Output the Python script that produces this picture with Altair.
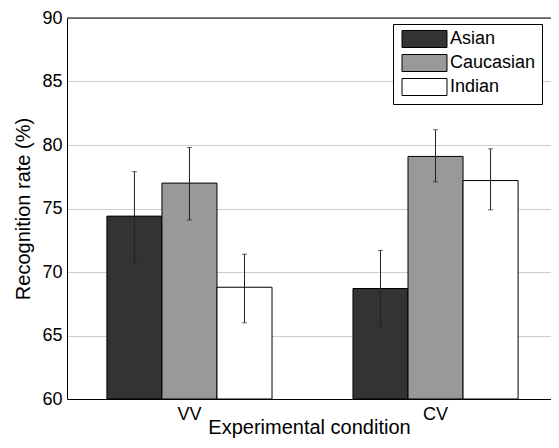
import altair as alt
import pandas as pd

conditions = ["VV", "VV", "VV", "CV", "CV", "CV"]
groups = ["Asian", "Caucasian", "Indian", "Asian", "Caucasian", "Indian"]
rates = [74.4, 77.0, 68.8, 68.7, 79.1, 77.2]
err_low = [70.7, 74.1, 66.0, 65.7, 77.1, 74.9]
err_high = [77.9, 79.8, 71.4, 71.7, 81.2, 79.7]

condition_order = ["VV", "CV"]
group_order = ["Asian", "Caucasian", "Indian"]
group_colors = ["#333333", "#999999", "#ffffff"]
y_ticks = [60, 65, 70, 75, 80, 85, 90]
y_min, y_max = 60, 90

df = pd.DataFrame({
    "condition": conditions,
    "group": groups,
    "rate": rates,
    "lo": err_low,
    "hi": err_high,
    "base": [y_min] * len(rates),
})
top_df = pd.DataFrame({"v": [y_max]})

FONT = "Liberation Sans"

x_enc = alt.X(
    "condition:N",
    sort=condition_order,
    scale=alt.Scale(paddingInner=0.329, paddingOuter=0.148, align=0.548),
    axis=alt.Axis(title="Experimental condition", labelAngle=0, ticks=False,
                  labelPadding=6, titlePadding=-6, grid=False),
)
xo_enc = alt.XOffset("group:N", sort=group_order,
                     scale=alt.Scale(paddingInner=0, paddingOuter=0))
y_scale = alt.Scale(domain=[y_min, y_max], nice=False, zero=False)

bars = alt.Chart(df).mark_bar(stroke="black", strokeWidth=1, opacity=1).encode(
    x=x_enc,
    xOffset=xo_enc,
    y=alt.Y("rate:Q", scale=y_scale,
            axis=alt.Axis(title="Recognition rate (%)", values=y_ticks, ticks=False,
                          labelPadding=5, titlePadding=8, grid=True,
                          gridColor="#999999", gridDash=[1, 1], gridWidth=1)),
    y2="base:Q",
    fill=alt.Fill(
        "group:N",
        sort=group_order,
        scale=alt.Scale(domain=group_order, range=group_colors),
        legend=alt.Legend(
            title=None, orient="none", legendX=326, legendY=6,
            fillColor="white", strokeColor="black", padding=6,
            symbolType="M-2.647,-1H2.647V1H-2.647Z", symbolSize=289,
            symbolStrokeColor="black", symbolStrokeWidth=1, symbolOpacity=1,
            symbolOffset=16.5, labelOffset=16.5, rowPadding=2,
            labelFontSize=18, labelFont=FONT, labelColor="black",
        ),
    ),
)

err = alt.Chart(df).mark_rule(color="#222222", strokeWidth=1).encode(
    x=x_enc, xOffset=xo_enc, y=alt.Y("lo:Q", scale=y_scale), y2="hi:Q"
)
cap_lo = alt.Chart(df).mark_tick(color="#222222", size=5, thickness=1).encode(
    x=x_enc, xOffset=xo_enc, y=alt.Y("lo:Q", scale=y_scale)
)
cap_hi = alt.Chart(df).mark_tick(color="#222222", size=5, thickness=1).encode(
    x=x_enc, xOffset=xo_enc, y=alt.Y("hi:Q", scale=y_scale)
)
top = alt.Chart(top_df).mark_rule(color="black", strokeWidth=1).encode(
    y=alt.Y("v:Q", scale=y_scale)
)

chart = alt.layer(bars, err, cap_lo, cap_hi, top).properties(
    width=484, height=381,
    autosize=alt.AutoSizeParams(type="none"),
    padding={"left": 59, "top": 10, "right": 0, "bottom": 40},
).configure_view(stroke=None).configure_axis(
    domainColor="black", domainWidth=1,
    labelFont=FONT, labelFontSize=18, labelColor="black",
    titleFont=FONT, titleFontSize=20, titleFontWeight="normal", titleColor="black",
)

chart.save("out.html", embed_options={"renderer": "svg", "actions": False})
